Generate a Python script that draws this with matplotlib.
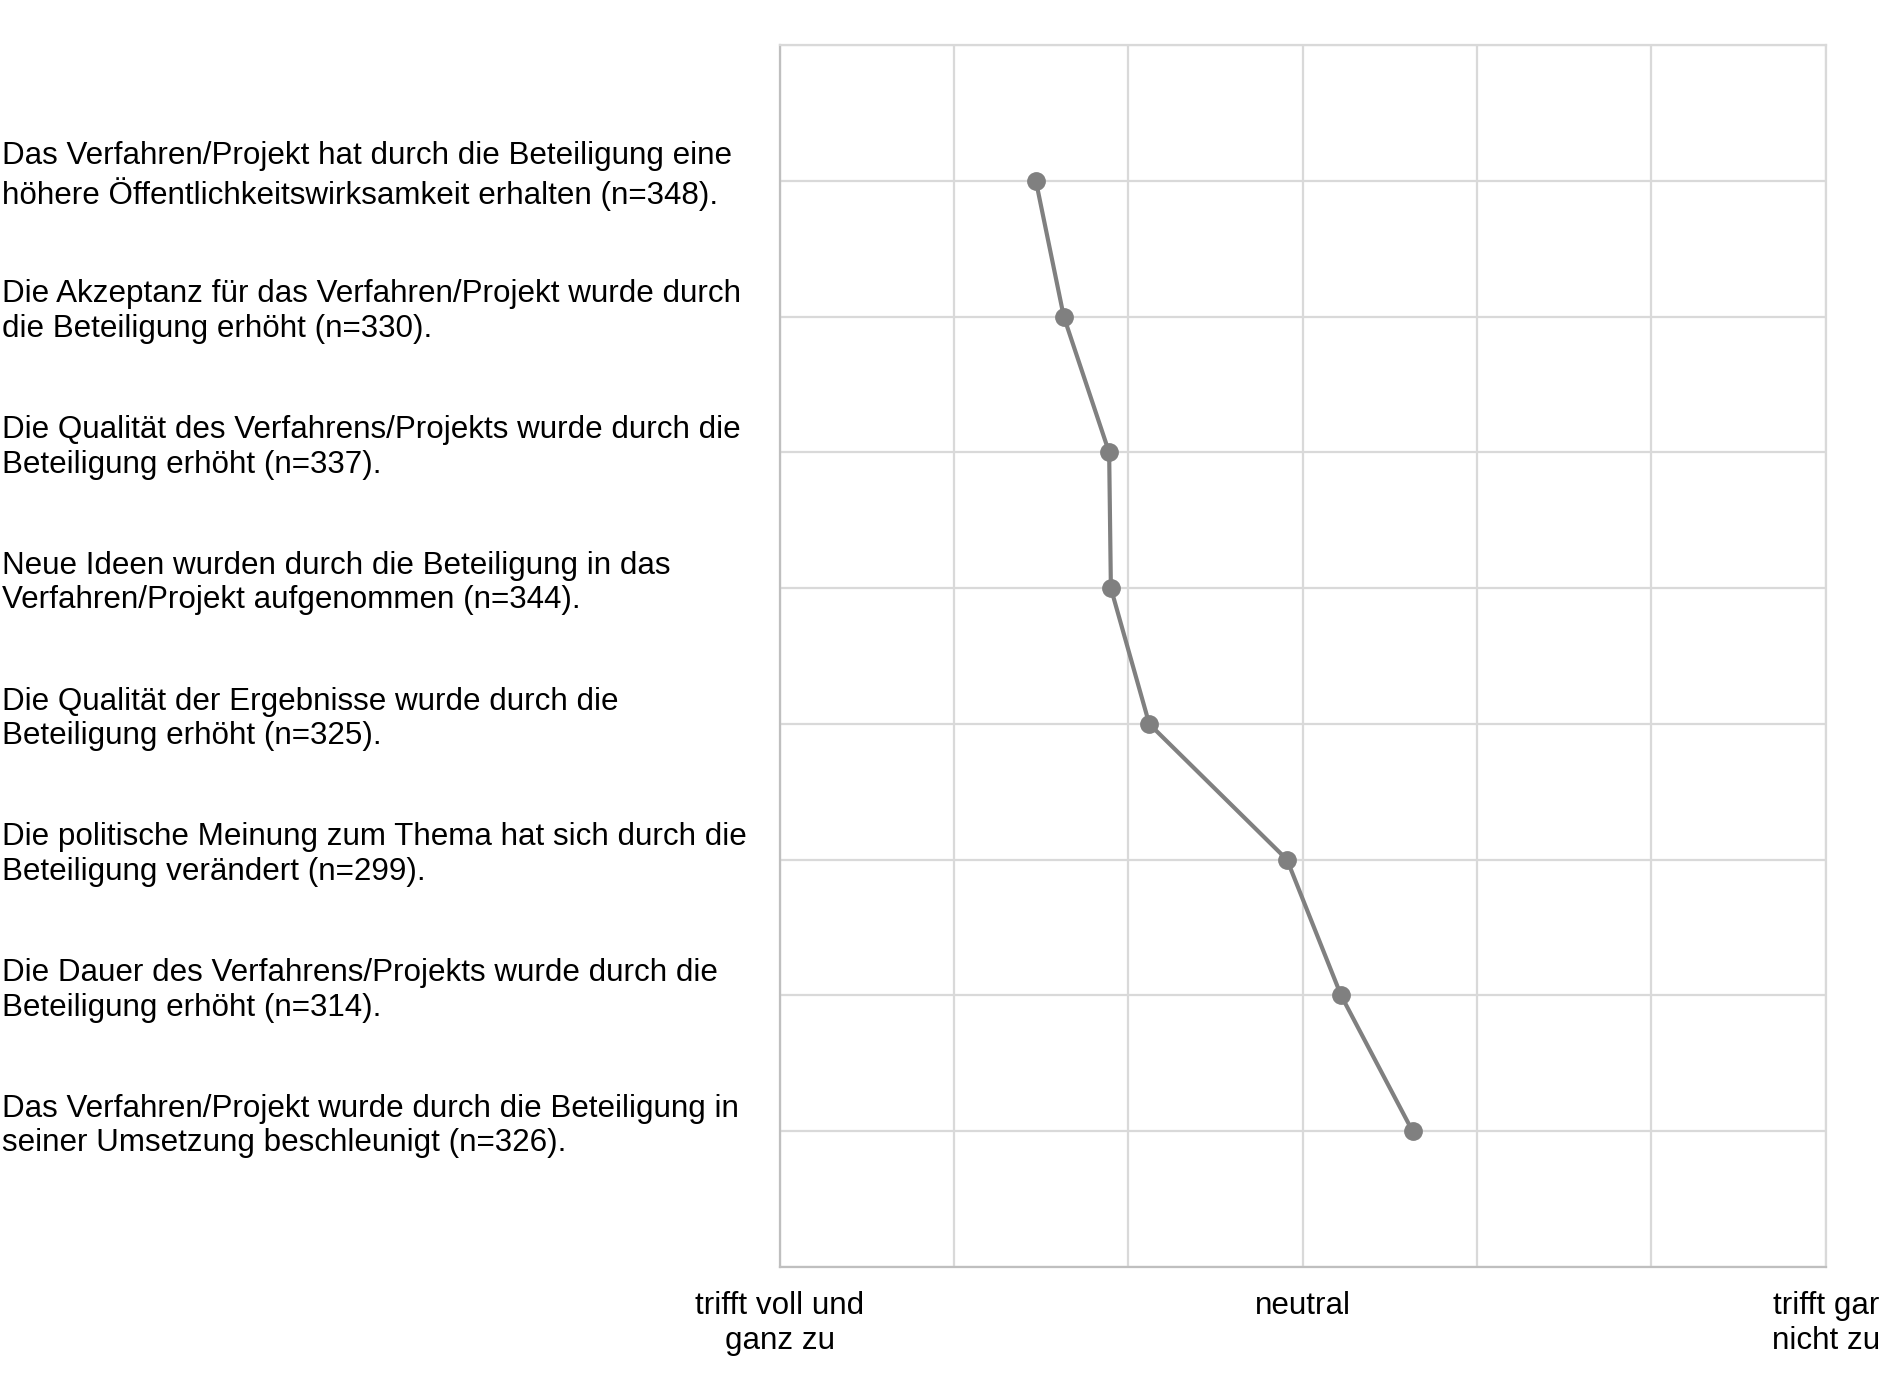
import matplotlib
matplotlib.use("Agg")
from matplotlib import pyplot as plt
from matplotlib import transforms

# Aussagen (von oben nach unten) und Mittelwerte auf der Skala 1..7
statements = [
    "Das Verfahren/Projekt hat durch die Beteiligung eine\nhöhere Öffentlichkeitswirksamkeit erhalten (n=348).",
    "Die Akzeptanz für das Verfahren/Projekt wurde durch\ndie Beteiligung erhöht (n=330).",
    "Die Qualität des Verfahrens/Projekts wurde durch die\nBeteiligung erhöht (n=337).",
    "Neue Ideen wurden durch die Beteiligung in das\nVerfahren/Projekt aufgenommen (n=344).",
    "Die Qualität der Ergebnisse wurde durch die\nBeteiligung erhöht (n=325).",
    "Die politische Meinung zum Thema hat sich durch die\nBeteiligung verändert (n=299).",
    "Die Dauer des Verfahrens/Projekts wurde durch die\nBeteiligung erhöht (n=314).",
    "Das Verfahren/Projekt wurde durch die Beteiligung in\nseiner Umsetzung beschleunigt (n=326).",
]
means = [2.47, 2.63, 2.89, 2.90, 3.12, 3.91, 4.22, 4.63]

scale_ticks = [1, 4, 7]
scale_labels = ["trifft voll und\nganz zu", "neutral", "trifft gar\nnicht zu"]

plt.rcParams['font.family'] = ['Liberation Sans', 'DejaVu Sans']

fig = plt.figure(figsize=(18.88, 13.78), dpi=100)
ax = fig.add_axes([0.4129, 0.0806, 0.5542, 0.8866])

pos = list(range(1, len(statements) + 1))
ax.plot(means, pos, color="#808080", lw=3, marker="o", ms=12.5, zorder=3)

ax.set_xlim(1, 7)
ax.set_ylim(len(statements) + 1, 0)
ax.set_xticks(range(1, 8), minor=False)
ax.set_yticks(range(0, len(statements) + 2))
ax.grid(True, color="#d9d9d9", lw=1.6, zorder=0)
ax.set_axisbelow(True)
ax.set_xticklabels([])
ax.set_yticklabels([])
ax.tick_params(length=0)

for t, lab in zip(scale_ticks, scale_labels):
    ax.text(t, len(statements) + 1, lab, ha="center", va="top", fontsize=22.6,
            linespacing=1.2, transform=transforms.offset_copy(ax.transData, fig=fig, y=-24, units="dots"))

trans = transforms.blended_transform_factory(fig.transFigure, ax.transData)
for p, s in zip(pos, statements):
    ax.text(0.0008, p, s, ha="left", va="center", fontsize=22.6, linespacing=1.2,
            transform=transforms.offset_copy(trans, fig=fig, y=5, units="dots"), clip_on=False)

for side in ["top", "right"]:
    ax.spines[side].set_color("#d9d9d9")
    ax.spines[side].set_linewidth(1.6)
for side in ["left", "bottom"]:
    ax.spines[side].set_color("#bfbfbf")
    ax.spines[side].set_linewidth(1.6)

fig.savefig("out.png", dpi=100, facecolor="white")
